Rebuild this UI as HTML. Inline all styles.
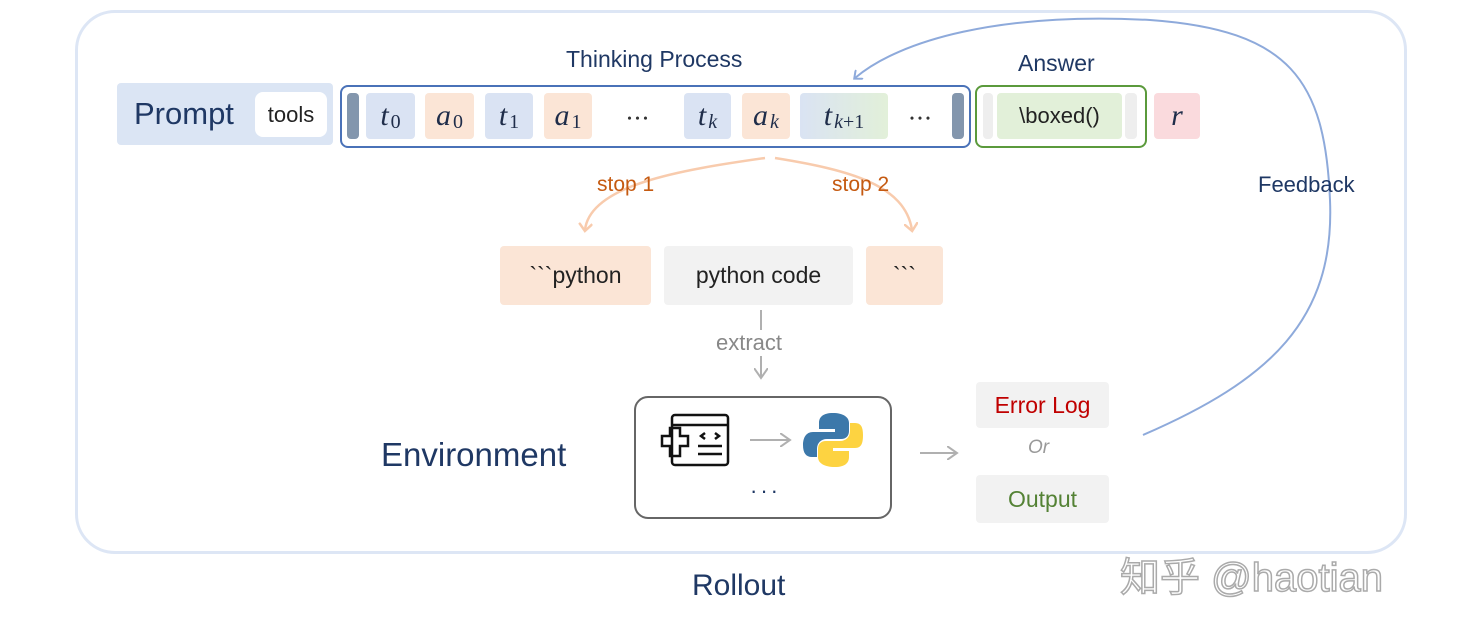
<!DOCTYPE html>
<html><head><meta charset="utf-8"><style>
body{margin:0;width:1470px;height:636px;background:#fff;position:relative;overflow:hidden;font-family:"Liberation Sans","Noto Sans CJK SC",sans-serif}
.a{position:absolute}
.c{position:absolute;display:flex;align-items:center;justify-content:center;border-radius:4px}
.m{font-family:"Liberation Serif",serif;font-style:italic;font-size:30px;color:#1f2d4a}
.m sub{font-size:20px;font-style:normal;position:relative;top:6px;vertical-align:baseline;margin-left:2px}
.m sub i{font-style:italic}
.t{white-space:nowrap}
</style></head><body>
<div class="a" style="left:75px;top:10px;width:1326px;height:538px;border:3px solid #dde6f5;border-radius:40px"></div>

<div class="c" style="left:117px;top:83px;width:216px;height:62px;background:#dbe5f4;justify-content:flex-start"><span class="t" style="margin-left:17px;font-size:31px;color:#1f3864">Prompt</span></div>
<div class="c" style="left:255px;top:92px;width:72px;height:45px;background:#fff;border-radius:8px;font-size:22px;color:#222">tools</div>

<div class="a t" style="left:566px;top:46px;font-size:23px;color:#1f3864">Thinking Process</div>
<div class="a" style="left:340px;top:85px;width:627px;height:59px;border:2px solid #4a72b8;border-radius:8px"></div>
<div class="c" style="left:347px;top:93px;width:12px;height:46px;background:#8396ad"></div>
<div class="c m" style="left:366px;top:93px;width:49px;height:46px;background:#dae3f3">t<sub>0</sub></div>
<div class="c m" style="left:425px;top:93px;width:49px;height:46px;background:#fbe5d6">a<sub>0</sub></div>
<div class="c m" style="left:485px;top:93px;width:48px;height:46px;background:#dae3f3">t<sub>1</sub></div>
<div class="c m" style="left:544px;top:93px;width:48px;height:46px;background:#fbe5d6">a<sub>1</sub></div>
<div class="c" style="left:610px;top:93px;width:55px;height:46px;font-size:24px;color:#333">⋯</div>
<div class="c m" style="left:684px;top:93px;width:47px;height:46px;background:#dae3f3">t<sub><i>k</i></sub></div>
<div class="c m" style="left:742px;top:93px;width:48px;height:46px;background:#fbe5d6">a<sub><i>k</i></sub></div>
<div class="c m" style="left:800px;top:93px;width:88px;height:46px;background:linear-gradient(90deg,#dae3f3,#e2f0d9)">t<sub><i>k</i>+1</sub></div>
<div class="c" style="left:895px;top:93px;width:50px;height:46px;font-size:24px;color:#333">⋯</div>
<div class="c" style="left:952px;top:93px;width:12px;height:46px;background:#8396ad"></div>

<div class="a t" style="left:1018px;top:50px;font-size:23px;color:#1f3864">Answer</div>
<div class="a" style="left:975px;top:85px;width:168px;height:59px;border:2px solid #5b9a3c;border-radius:8px"></div>
<div class="c" style="left:983px;top:93px;width:10px;height:46px;background:#eeeeee"></div>
<div class="c" style="left:997px;top:93px;width:125px;height:46px;background:#e2f0d9;font-size:22px;color:#222">\boxed()</div>
<div class="c" style="left:1125px;top:93px;width:12px;height:46px;background:#eeeeee"></div>
<div class="c m" style="left:1154px;top:93px;width:46px;height:46px;background:#fadadd">r</div>

<svg class="a" style="left:0;top:0" width="1470" height="636">
<defs>
<marker id="b" markerWidth="12" markerHeight="12" refX="6" refY="6" orient="auto" markerUnits="userSpaceOnUse"><path d="M0,0 L7,6 L0,12" fill="none" stroke="#8eaadb" stroke-width="2"/></marker>
<marker id="o" markerWidth="14" markerHeight="14" refX="7" refY="7" orient="auto" markerUnits="userSpaceOnUse"><path d="M0,0 L8,7 L0,14" fill="none" stroke="#f8cbad" stroke-width="2.5"/></marker>
<marker id="g" markerWidth="14" markerHeight="14" refX="10" refY="7" orient="auto" markerUnits="userSpaceOnUse"><path d="M0,0 L10,7 L0,14" fill="none" stroke="#b0b0b0" stroke-width="2"/></marker>
</defs>
<path d="M1143,435 C1270,380 1335,320 1330,200 C1325,80 1290,30 1150,20 C1000,12 900,40 855,78" fill="none" stroke="#8eaadb" stroke-width="2" marker-end="url(#b)"/>
<path d="M765,158 C680,170 590,185 585,230" fill="none" stroke="#f8cbad" stroke-width="2.5" marker-end="url(#o)"/>
<path d="M775,158 C850,170 905,185 912,230" fill="none" stroke="#f8cbad" stroke-width="2.5" marker-end="url(#o)"/>
<line x1="761" y1="310" x2="761" y2="378" stroke="#b0b0b0" stroke-width="2" marker-end="url(#g)"/>
<line x1="750" y1="440" x2="790" y2="440" stroke="#b0b0b0" stroke-width="2" marker-end="url(#g)"/>
<line x1="920" y1="453" x2="957" y2="453" stroke="#b0b0b0" stroke-width="2" marker-end="url(#g)"/>
<g fill="none" stroke="#111" stroke-width="2.5">
<rect x="672" y="415" width="56" height="50" rx="3"/>
<line x1="672" y1="425" x2="728" y2="425"/>
<path d="M670,428 h10 v8 h8 v10 h-8 v10 h-10 v-10 h-8 v-10 h8z"/>
<line x1="698" y1="446" x2="722" y2="446"/><line x1="698" y1="454" x2="722" y2="454"/>
<path d="M705,433 l-4,3 4,3 M715,433 l4,3 -4,3"/>
</g>
<path d="M833,413 c-10,0 -14,4 -14,10 v6 h16 v3 h-22 c-7,0 -10,6 -10,13 c0,8 3,12 9,12 h5 v-8 c0,-6 4,-10 10,-10 h14 c5,0 8,-3 8,-8 v-8 c0,-6 -6,-10 -16,-10z" fill="#3c78aa"/>
<path d="M835,467 c10,0 14,-4 14,-10 v-6 h-16 v-3 h22 c7,0 8,-6 8,-13 c0,-8 -2,-12 -8,-12 h-5 v8 c0,6 -4,10 -10,10 h-14 c-5,0 -8,3 -8,8 v8 c0,6 6,10 17,10z" fill="#fdd341"/>
</svg>

<div class="a t" style="left:1258px;top:172px;font-size:22px;color:#1f3864">Feedback</div>
<div class="a t" style="left:597px;top:173px;font-size:21px;color:#c55a11">stop 1</div>
<div class="a t" style="left:832px;top:173px;font-size:21px;color:#c55a11">stop 2</div>

<div class="c" style="left:500px;top:246px;width:151px;height:59px;background:#fbe5d6;font-size:23px;color:#222">&#96;&#96;&#96;python</div>
<div class="c" style="left:664px;top:246px;width:189px;height:59px;background:#f2f2f2;font-size:23px;color:#222">python code</div>
<div class="c" style="left:866px;top:246px;width:77px;height:59px;background:#fbe5d6;font-size:23px;color:#222">&#96;&#96;&#96;</div>

<div class="a t" style="left:716px;top:330px;font-size:22px;color:#888;background:#fff">extract</div>
<div class="a t" style="left:381px;top:436px;font-size:33px;color:#1f3864">Environment</div>

<div class="a" style="left:634px;top:396px;width:254px;height:119px;border:2px solid #666;border-radius:14px"></div>
<div class="a t" style="left:750px;top:478px;font-size:22px;color:#1f3864;letter-spacing:3px">···</div>

<div class="c" style="left:976px;top:382px;width:133px;height:46px;background:#f2f2f2;font-size:23px;color:#c00000">Error Log</div>
<div class="a t" style="left:1028px;top:437px;font-size:19px;color:#999;font-style:italic">Or</div>
<div class="c" style="left:976px;top:475px;width:133px;height:48px;background:#f2f2f2;font-size:23px;color:#548235">Output</div>

<div class="a t" style="left:692px;top:569px;font-size:30px;color:#1f3864">Rollout</div>
<div class="a t" style="left:1120px;top:545px;font-size:40px;color:#fff;-webkit-text-stroke:1.5px #aaa">知乎 @haotian</div>
</body></html>
